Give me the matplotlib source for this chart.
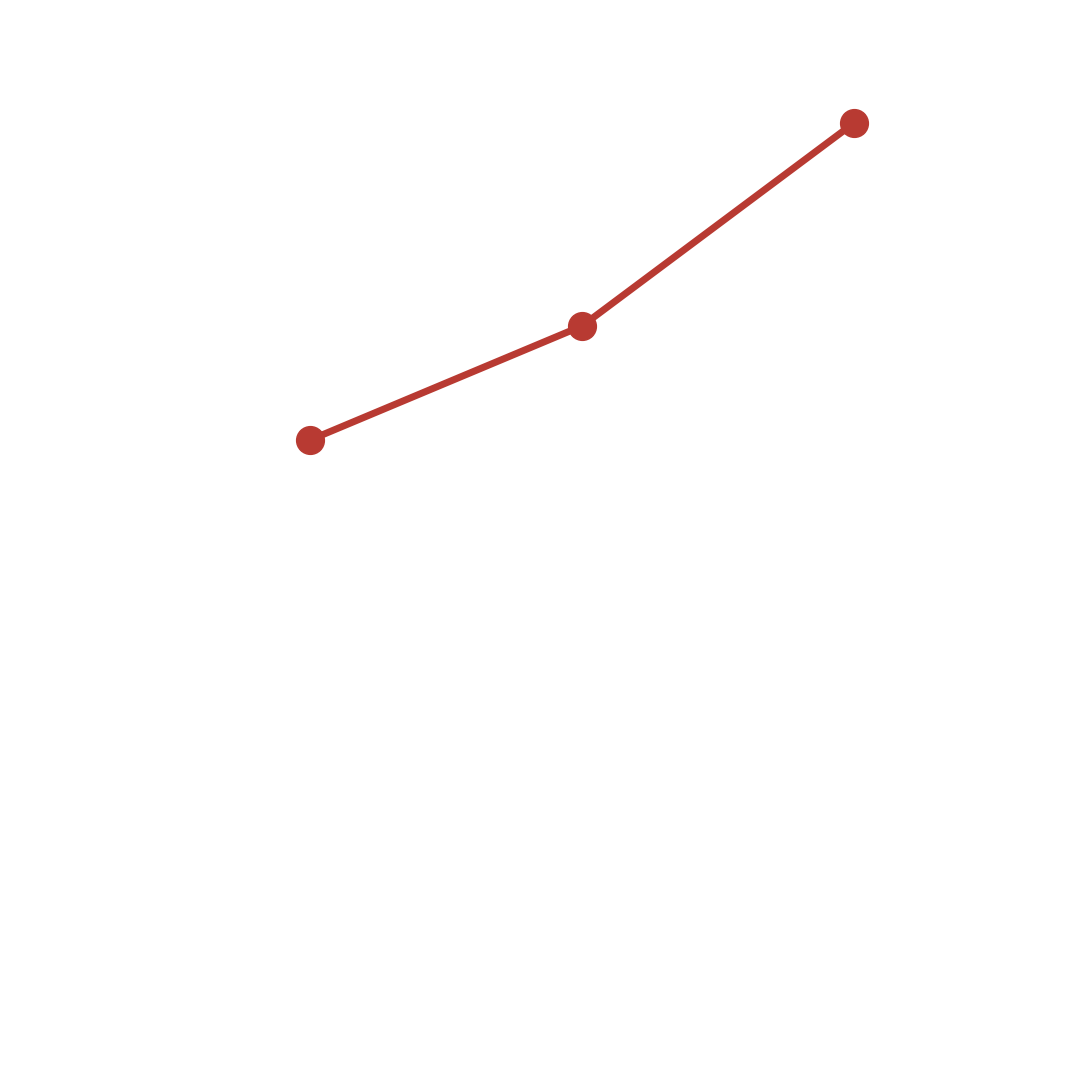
import matplotlib
matplotlib.use("Agg")
import matplotlib.pyplot as plt

# data
steps = [0, 1, 2]
values = [64.0, 75.4, 95.7]

fig = plt.figure(figsize=(10.8, 10.8), dpi=100)
ax = fig.add_axes([0, 0, 1, 1])
ax.plot(steps, values, color="#b83a32", lw=5, marker="o", markersize=20,
        solid_capstyle="round")
ax.set_xlim(-310 / 272, 770 / 272)
ax.set_ylim(0, 108)
ax.axis("off")
fig.savefig("out.png", dpi=100, facecolor="white")
